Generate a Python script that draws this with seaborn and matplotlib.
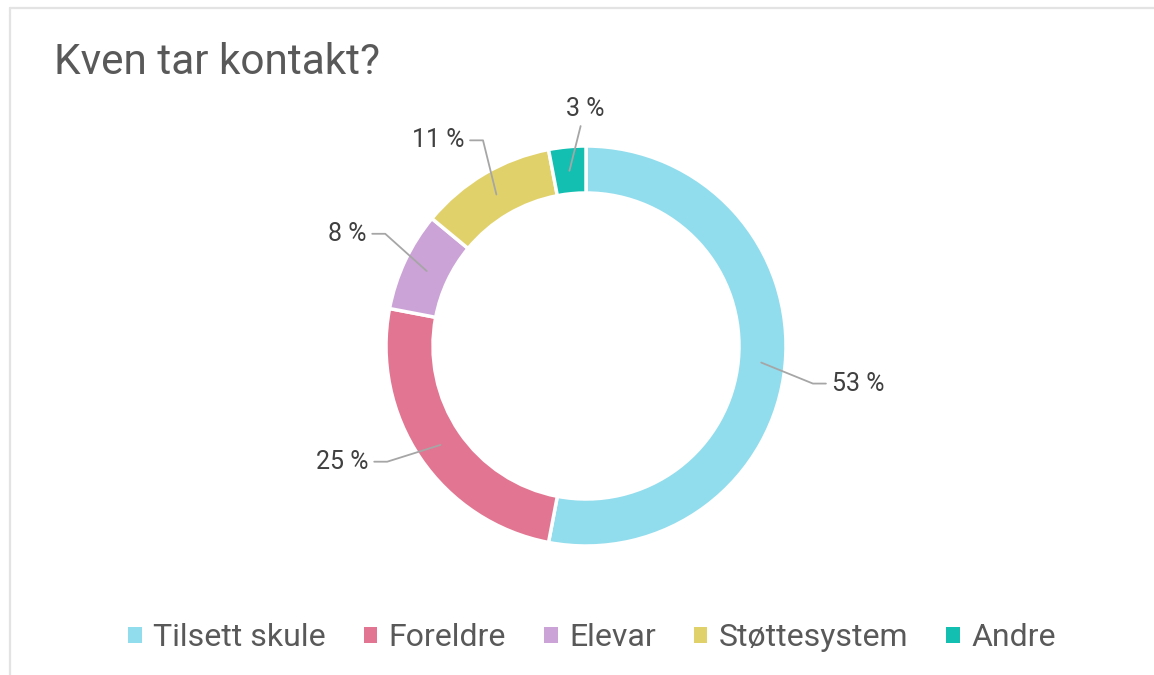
import numpy as np
import matplotlib
matplotlib.use("Agg")
import matplotlib.pyplot as plt
from matplotlib.patches import Patch
import seaborn as sns

# data
categories = ["Tilsett skule", "Foreldre", "Elevar", "Støttesystem", "Andre"]
shares = [53, 25, 8, 11, 3]
labels = ["53 %", "25 %", "8 %", "11 %", "3 %"]
colors = ["#91dded", "#e27591", "#cba3d7", "#e1d16b", "#12bfb1"]

sns.set_theme(style="white")
plt.rcParams["font.family"] = ["Roboto", "DejaVu Sans"]

W, H = 1154, 675
fig = plt.figure(figsize=(W / 100, H / 100), dpi=100)
ax = fig.add_axes([0, 0, 1, 1])

cx, cy, R = 586, H - 346, 200
pal = sns.color_palette(colors)

wedges, _ = ax.pie(shares, colors=pal, startangle=90, counterclock=False,
                   center=(cx, cy), radius=R, frame=True,
                   wedgeprops=dict(width=R * 0.235, edgecolor="white", linewidth=2.5))
ax.set_xlim(0, W)
ax.set_ylim(0, H)
ax.set_aspect("equal")
ax.axis("off")

# leader lines + labels
for w, lab in zip(wedges, labels):
    mid = (w.theta1 + w.theta2) / 2
    a1 = np.deg2rad(mid)
    a2 = np.deg2rad(mid - 4)
    x1, y1 = cx + 0.88 * R * np.cos(a1), cy + 0.88 * R * np.sin(a1)
    if abs(np.cos(a2)) < 0.2:
        x2, y2 = cx + 1.1 * R * np.cos(a2), cy + 1.1 * R * np.sin(a2)
        ax.plot([x1, x2], [y1, y2], color="#a6a6a6", lw=1.3)
        ax.text(x2 + 5, y2 + 17, lab, ha="center", va="center",
                fontsize=18, color="#404040")
    else:
        x2, y2 = cx + 1.15 * R * np.cos(a2), cy + 1.15 * R * np.sin(a2)
        d = np.sign(np.cos(a2))
        x3 = x2 + d * 13
        ax.plot([x1, x2, x3], [y1, y2, y2], color="#a6a6a6", lw=1.3)
        ax.text(x3 + d * 6, y2, lab, ha="left" if d > 0 else "right",
                va="center", fontsize=18, color="#404040")

# title
ax.text(54, H - 62, "Kven tar kontakt?", ha="left", va="center",
        fontsize=30.5, color="#595959")

# frame lines
ax.plot([10, W], [H - 8, H - 8], color="#e3e3e3", lw=1.6, clip_on=False)
ax.plot([10, 10], [H - 8, 0], color="#e3e3e3", lw=1.6, clip_on=False)

handles = [Patch(facecolor=col, edgecolor="none") for col in pal]
fig.legend(handles, categories, loc="center", bbox_to_anchor=(592 / W, 1 - 638 / H),
           ncol=5, frameon=False, fontsize=23, labelcolor="#595959",
           handlelength=0.42, handleheight=0.42, handletextpad=0.35,
           columnspacing=1.2)

fig.savefig("out.png", dpi=100, facecolor="white")
